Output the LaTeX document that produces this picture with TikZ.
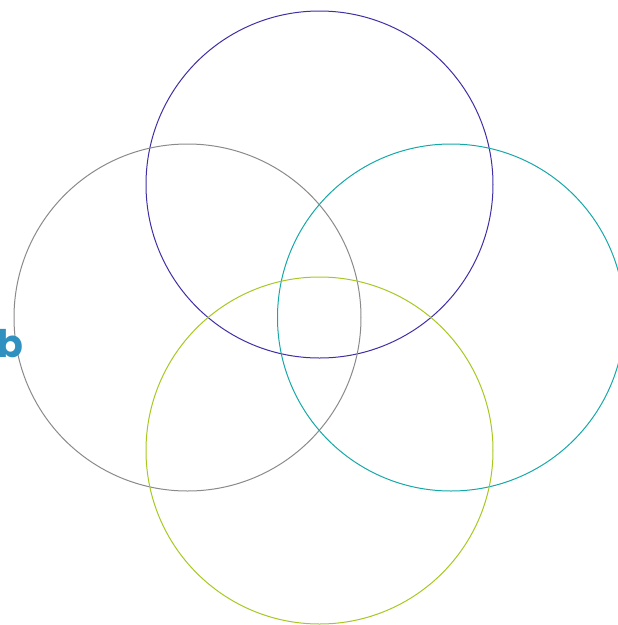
\documentclass[tikz,border=0pt]{standalone}
\usepackage{fontspec}
\newfontfamily\labelfont{Poppins}
\definecolor{cpurple}{HTML}{3F2FA3}
\definecolor{cgray}{HTML}{8A8A8A}
\definecolor{cteal}{HTML}{16A8A8}
\definecolor{cgreen}{HTML}{A6C821}
\definecolor{cblue}{HTML}{3090C0}
\begin{document}
\begin{tikzpicture}[x=1pt,y=-1pt,
  ring/.style={circle,draw=#1,line width=1pt,inner sep=0pt,minimum size=347pt}]
\useasboundingbox (0,0) rectangle (618,625);
\clip (0,0) rectangle (618,625);
\node[ring=cpurple] (top) at (319.5,184.5) {};
\node[ring=cgray] (left) at (187.5,317.5) {};
\node[ring=cteal] (right) at (451,317.5) {};
\node[ring=cgreen] (bottom) at (319.5,450.5) {};
\node[anchor=base east,inner sep=0pt,text=cblue,font=\labelfont\bfseries\fontsize{38}{38}\selectfont] (lbl) at (23.5,357) {b};
\end{tikzpicture}
\end{document}
